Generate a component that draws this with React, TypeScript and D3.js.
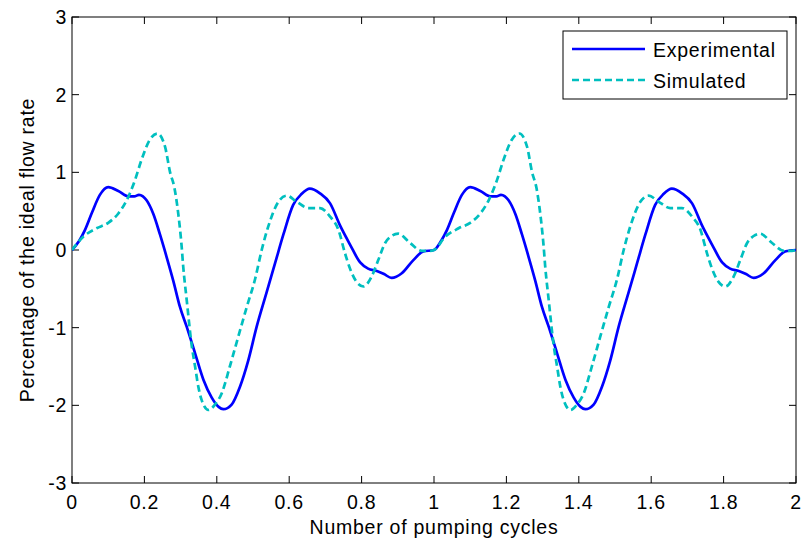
import React from "react";
import * as d3 from "d3";

// One pumping cycle of each flow-rate trace (phase within the cycle, value)
const cyclePhaseExp = [0, 0.02, 0.036, 0.055, 0.077, 0.1, 0.128, 0.156, 0.172, 0.185, 0.206, 0.225, 0.243, 0.262, 0.28, 0.298, 0.317, 0.34, 0.363, 0.386, 0.405, 0.418, 0.441, 0.464, 0.487, 0.51, 0.538, 0.561, 0.584, 0.611, 0.634, 0.657, 0.685, 0.713, 0.74, 0.768, 0.796, 0.818, 0.842, 0.862, 0.883, 0.911, 0.943, 0.97];
const experimental = [0, 0.12, 0.26, 0.48, 0.71, 0.81, 0.76, 0.69, 0.69, 0.71, 0.64, 0.46, 0.2, -0.1, -0.4, -0.73, -0.99, -1.33, -1.67, -1.9, -2.02, -2.05, -1.99, -1.76, -1.42, -0.99, -0.54, -0.17, 0.2, 0.58, 0.72, 0.79, 0.73, 0.6, 0.32, 0.07, -0.16, -0.24, -0.27, -0.31, -0.36, -0.3, -0.13, -0.02];

const cyclePhaseSim = [0, 0.031, 0.068, 0.1, 0.128, 0.151, 0.174, 0.192, 0.215, 0.236, 0.257, 0.271, 0.283, 0.294, 0.303, 0.307, 0.317, 0.331, 0.34, 0.349, 0.358, 0.377, 0.395, 0.414, 0.436, 0.459, 0.483, 0.506, 0.524, 0.542, 0.57, 0.593, 0.621, 0.653, 0.685, 0.713, 0.736, 0.754, 0.768, 0.786, 0.805, 0.828, 0.846, 0.865, 0.883, 0.901, 0.934, 0.966, 0.989];
const simulated = [0, 0.17, 0.28, 0.35, 0.47, 0.64, 0.9, 1.16, 1.42, 1.5, 1.33, 1.0, 0.8, 0.45, 0.04, -0.2, -0.65, -1.24, -1.5, -1.76, -1.93, -2.06, -1.99, -1.84, -1.5, -1.12, -0.73, -0.37, 0, 0.3, 0.62, 0.7, 0.62, 0.54, 0.54, 0.43, 0.26, -0.04, -0.24, -0.41, -0.47, -0.34, -0.13, 0.09, 0.18, 0.21, 0.09, -0.01, -0.01];

const cycles = [0, 1];
const xTicks = [0, 0.2, 0.4, 0.6, 0.8, 1, 1.2, 1.4, 1.6, 1.8, 2];
const yTicks = [-3, -2, -1, 0, 1, 2, 3];
const seriesNames = ["Experimental", "Simulated"];

const W = 807;
const H = 545;
const M = { left: 72, right: 796, top: 17, bottom: 483 };
const FONT = "Arial, 'Liberation Sans', Helvetica, sans-serif";
const FS = 19.5;
const LS = 0.75;

type Pt = [number, number];

function repeatCycles(phase: number[], vals: number[]): Pt[] {
  const pts: Pt[] = [];
  cycles.forEach((c) => phase.forEach((p, i) => pts.push([p + c, vals[i]])));
  pts.push([cycles.length, vals[0]]);
  return pts;
}

export default function App() {
  const x = d3.scaleLinear().domain([0, 2]).range([M.left, M.right]);
  const y = d3.scaleLinear().domain([-3, 3]).range([M.bottom, M.top]);
  const line = d3
    .line<Pt>()
    .x((d) => x(d[0]))
    .y((d) => y(d[1]))
    .curve(d3.curveMonotoneX);

  const expPts = repeatCycles(cyclePhaseExp, experimental);
  const simPts = repeatCycles(cyclePhaseSim, simulated);
  const tickLen = 7;

  const blue = "#0000ff";
  const cyan = "#00bfbf";

  return (
    <svg
      width={W}
      height={H}
      style={{ position: "absolute", left: 0, top: 0, background: "#fff" }}
      fontFamily={FONT}
      fontSize={FS}
      letterSpacing={LS}
    >
      <rect x={0} y={0} width={W} height={H} fill="#fff" />
      <defs>
        <clipPath id="plotClip">
          <rect x={M.left} y={M.top} width={M.right - M.left} height={M.bottom - M.top} />
        </clipPath>
      </defs>

      {/* ticks on all four sides, pointing inward */}
      {xTicks.map((t) => (
        <g key={"xt" + t}>
          <line x1={x(t)} x2={x(t)} y1={M.bottom} y2={M.bottom - tickLen} stroke="#000" />
          <line x1={x(t)} x2={x(t)} y1={M.top} y2={M.top + tickLen} stroke="#000" />
          <text x={x(t)} y={509} textAnchor="middle" fill="#000">
            {t}
          </text>
        </g>
      ))}
      {yTicks.map((t) => (
        <g key={"yt" + t}>
          <line x1={M.left} x2={M.left + tickLen} y1={y(t)} y2={y(t)} stroke="#000" />
          <line x1={M.right} x2={M.right - tickLen} y1={y(t)} y2={y(t)} stroke="#000" />
          <text x={67} y={y(t) + 7} textAnchor="end" fill="#000">
            {t}
          </text>
        </g>
      ))}

      <rect
        x={M.left}
        y={M.top}
        width={M.right - M.left}
        height={M.bottom - M.top}
        fill="none"
        stroke="#000"
        strokeWidth={1}
      />

      <g clipPath="url(#plotClip)">
        <path d={line(expPts) ?? ""} fill="none" stroke={blue} strokeWidth={2.7} strokeLinejoin="round" />
        <path
          d={line(simPts) ?? ""}
          fill="none"
          stroke={cyan}
          strokeWidth={2.7}
          strokeDasharray="7 4"
        />
      </g>

      {/* legend */}
      <rect x={563} y={31} width={224} height={68} fill="#fff" stroke="#000" strokeWidth={1} />
      <line x1={572} x2={645} y1={49} y2={49} stroke={blue} strokeWidth={2.7} />
      <line x1={572} x2={645} y1={80} y2={80} stroke={cyan} strokeWidth={2.7} strokeDasharray="7 4" />
      <text x={653} y={57} fill="#000">
        {seriesNames[0]}
      </text>
      <text x={653} y={88} fill="#000">
        {seriesNames[1]}
      </text>

      <text x={(M.left + M.right) / 2} y={534} textAnchor="middle" fill="#000">
        Number of pumping cycles
      </text>
      <text
        transform={`translate(34, ${(M.top + M.bottom) / 2}) rotate(-90)`}
        textAnchor="middle"
        fill="#000"
      >
        Percentage of the ideal flow rate
      </text>
    </svg>
  );
}
